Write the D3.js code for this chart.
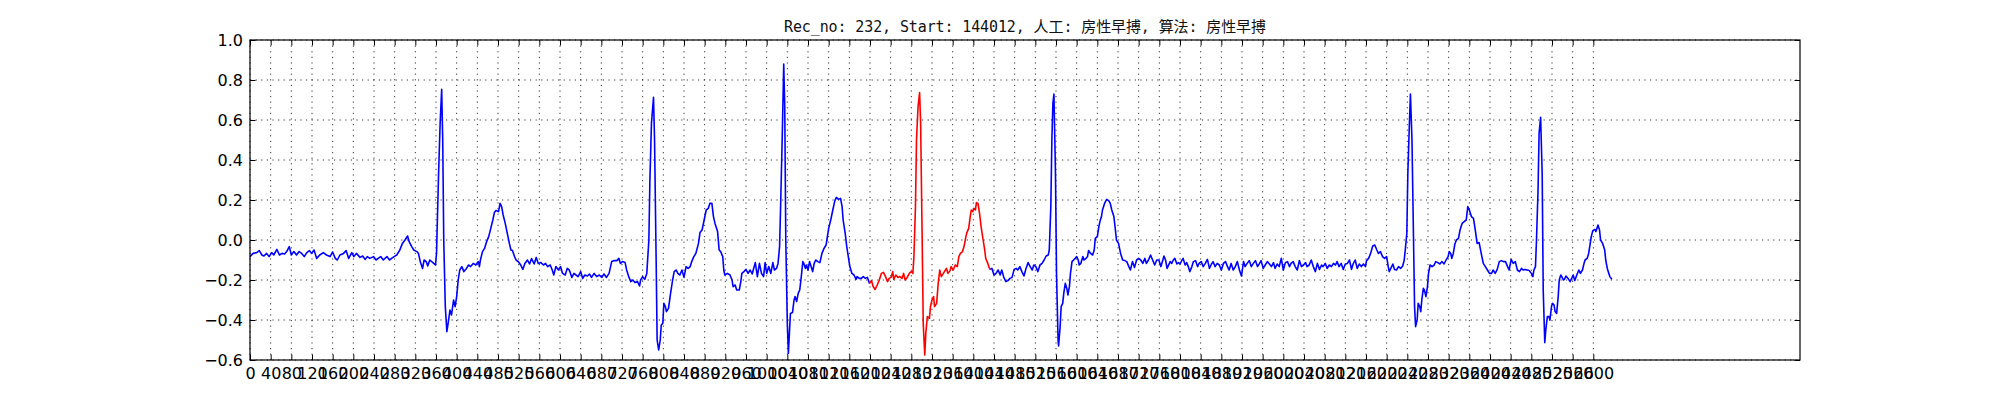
<!DOCTYPE html>
<html>
<head>
<meta charset="utf-8">
<title>Rec 232 ECG</title>
<style>
    body { margin: 0; background: #fff; }
    .axis text { font-family: "DejaVu Sans", sans-serif; font-size: 16px; fill: #000; }
    .axis line { stroke: #000; stroke-width: 1; }
    .grid line { stroke: #000; stroke-width: 0.8; stroke-dasharray: 1.2,4.4; }
    .title { font-family: "DejaVu Sans Mono", "Noto Sans CJK SC", monospace; font-size: 15px; fill: #111; }
</style>
</head>
<body>
<svg width="2000" height="400"></svg>
<script src="https://d3js.org/d3.v7.min.js"></script>
<script>
var titleText = "Rec_no: 232, Start: 144012, 人工: 房性早搏, 算法: 房性早搏";

// sample number of each reading (360 Hz record)
var sampleIndex = [
    0,6,13,18,23,27,32,37,42,46,
    52,57,62,67,71,76,80,85,90,95,
    100,105,110,115,119,124,129,135,142,148,
    155,160,165,169,174,181,186,191,197,201,
    206,213,218,223,227,232,239,244,248,253,
    258,265,270,274,279,284,290,295,300,305,
    308,313,317,323,326,330,334,337,341,344,
    348,354,359,361,365,368,371,373,375,378,
    381,384,387,390,394,397,400,403,406,410,
    414,419,423,427,432,437,442,444,446,450,
    454,458,462,466,470,473,476,481,484,487,
    490,494,498,502,505,508,512,515,519,524,
    528,532,537,541,545,550,554,558,563,568,
    572,576,581,585,588,592,597,601,605,610,
    614,618,623,627,631,635,640,644,648,653,
    657,661,666,671,676,681,685,690,695,700,
    705,710,714,717,721,726,729,733,737,741,
    745,750,754,756,760,764,768,772,774,777,
    781,783,786,788,791,794,796,799,801,804,
    806,810,814,818,821,825,828,832,836,840,
    844,848,852,855,859,863,868,871,875,879,
    883,887,890,894,897,900,905,908,911,915,
    917,919,924,929,933,935,939,942,947,950,
    952,956,960,964,968,972,974,978,982,986,
    990,994,997,1000,1004,1008,1012,1015,1019,1022,
    1025,1027,1030,1032,1033,1035,1037,1040,1042,1044,
    1046,1050,1053,1055,1058,1061,1064,1067,1070,1072,
    1075,1077,1080,1083,1086,1089,1092,1095,1099,1103,
    1107,1111,1115,1117,1120,1124,1128,1132,1135,1139,
    1143,1146,1148,1152,1155,1158,1161,1165,1169,1173,
    1175,1179,1183,1187,1191,1195,1199,1203,1206,1210,
    1214,1218,1222,1226,1230,1234,1237,1241,1244,1246,
    1250,1254,1258,1262,1265,1268,1272,1276,1280,1283,
    1285,1288,1290,1293,1296,1298,1301,1303,1306,1308,
    1311,1315,1317,1320,1323,1325,1329,1332,1335,1338,
    1342,1346,1348,1351,1355,1357,1361,1365,1369,1372,
    1375,1379,1382,1385,1387,1391,1394,1396,1399,1401,
    1404,1406,1409,1412,1415,1419,1422,1424,1428,1432,
    1436,1440,1444,1448,1452,1455,1459,1463,1467,1471,
    1475,1479,1483,1486,1490,1494,1498,1502,1506,1510,
    1514,1517,1521,1525,1529,1533,1537,1541,1545,1547,
    1550,1552,1554,1556,1559,1561,1564,1565,1568,1570,
    1573,1575,1578,1581,1583,1586,1588,1591,1594,1597,
    1600,1603,1605,1608,1612,1614,1618,1621,1623,1627,
    1631,1634,1636,1640,1643,1645,1648,1650,1654,1658,
    1662,1665,1668,1672,1675,1677,1681,1685,1689,1693,
    1697,1701,1704,1708,1712,1716,1720,1724,1728,1732,
    1735,1739,1743,1747,1751,1755,1759,1763,1766,1769,
    1772,1775,1781,1784,1787,1790,1794,1797,1800,1804,
    1806,1810,1813,1816,1819,1823,1826,1830,1834,1837,
    1841,1845,1849,1853,1857,1861,1864,1868,1872,1876,
    1880,1884,1888,1892,1895,1899,1903,1907,1911,1915,
    1919,1923,1926,1930,1934,1938,1942,1946,1950,1954,
    1957,1961,1965,1969,1973,1977,1981,1984,1988,1992,
    1996,2000,2004,2008,2012,2015,2019,2023,2027,2031,
    2035,2039,2043,2046,2050,2054,2058,2062,2066,2070,
    2074,2077,2081,2085,2089,2093,2097,2101,2104,2108,
    2112,2116,2120,2124,2128,2132,2135,2139,2143,2147,
    2151,2155,2159,2161,2165,2169,2173,2177,2181,2184,
    2188,2192,2196,2200,2203,2205,2208,2212,2215,2219,
    2223,2227,2231,2234,2236,2239,2241,2244,2246,2249,
    2252,2254,2256,2259,2261,2264,2266,2268,2271,2273,
    2276,2279,2281,2284,2288,2292,2295,2299,2303,2307,
    2311,2315,2319,2321,2324,2326,2329,2332,2335,2339,
    2342,2346,2350,2354,2357,2360,2364,2368,2372,2375,
    2379,2383,2387,2391,2395,2399,2403,2406,2410,2414,
    2418,2422,2426,2430,2434,2437,2441,2445,2449,2453,
    2457,2461,2464,2468,2472,2476,2480,2483,2485,2488,
    2490,2493,2495,2498,2501,2503,2506,2508,2511,2514,
    2516,2519,2521,2524,2526,2529,2532,2534,2537,2539,
    2542,2544,2547,2551,2555,2559,2561,2564,2568,2572,
    2575,2579,2582,2584,2588,2591,2594,2596,2599,2603,
    2605,2609,2612,2614,2618,2622,2624,2627,2630,2632,
    2636
];

// amplitude at each sample (mV), same order as sampleIndex
var amplitudeMv = [
    -0.083,-0.067,-0.063,-0.053,-0.075,-0.080,-0.067,-0.083,-0.063,-0.075,
    -0.047,-0.075,-0.067,-0.070,-0.058,-0.033,-0.075,-0.058,-0.075,-0.058,
    -0.067,-0.083,-0.063,-0.053,-0.067,-0.050,-0.092,-0.075,-0.063,-0.075,
    -0.083,-0.060,-0.092,-0.100,-0.075,-0.067,-0.053,-0.092,-0.063,-0.083,
    -0.067,-0.087,-0.080,-0.097,-0.083,-0.092,-0.083,-0.100,-0.092,-0.083,
    -0.100,-0.083,-0.100,-0.092,-0.083,-0.075,-0.050,-0.017,0.000,0.020,
    -0.008,-0.033,-0.050,-0.058,-0.067,-0.113,-0.142,-0.100,-0.108,-0.130,
    -0.100,-0.113,-0.125,-0.067,0.333,0.583,0.753,0.500,0.000,-0.333,
    -0.458,-0.408,-0.350,-0.375,-0.300,-0.333,-0.283,-0.200,-0.150,-0.133,
    -0.158,-0.142,-0.125,-0.133,-0.117,-0.125,-0.108,-0.133,-0.100,-0.058,
    -0.042,-0.008,0.017,0.058,0.100,0.137,0.147,0.142,0.183,0.167,
    0.125,0.083,0.033,-0.017,-0.050,-0.053,-0.083,-0.100,-0.108,-0.125,
    -0.147,-0.117,-0.100,-0.120,-0.093,-0.120,-0.087,-0.117,-0.113,-0.125,
    -0.117,-0.133,-0.125,-0.150,-0.175,-0.133,-0.150,-0.133,-0.167,-0.175,
    -0.142,-0.150,-0.187,-0.167,-0.175,-0.183,-0.158,-0.192,-0.175,-0.180,
    -0.170,-0.187,-0.167,-0.183,-0.175,-0.187,-0.170,-0.187,-0.167,-0.108,
    -0.103,-0.103,-0.092,-0.117,-0.108,-0.113,-0.150,-0.183,-0.208,-0.200,
    -0.213,-0.208,-0.230,-0.200,-0.183,-0.197,-0.167,0.000,0.300,0.583,
    0.713,0.500,-0.083,-0.500,-0.550,-0.500,-0.425,-0.417,-0.317,-0.333,
    -0.358,-0.342,-0.267,-0.200,-0.158,-0.150,-0.167,-0.175,-0.150,-0.187,
    -0.133,-0.142,-0.133,-0.108,-0.083,-0.067,-0.017,0.037,0.050,0.100,
    0.150,0.158,0.183,0.183,0.117,0.083,0.042,-0.050,-0.058,-0.083,
    -0.150,-0.175,-0.167,-0.175,-0.200,-0.233,-0.225,-0.250,-0.250,-0.208,
    -0.167,-0.158,-0.147,-0.167,-0.150,-0.170,-0.150,-0.113,-0.183,-0.117,
    -0.167,-0.183,-0.113,-0.167,-0.133,-0.167,-0.113,-0.150,-0.142,-0.117,
    -0.033,0.167,0.500,0.750,0.880,0.667,0.000,-0.417,-0.567,-0.467,
    -0.367,-0.363,-0.300,-0.283,-0.308,-0.267,-0.250,-0.183,-0.108,-0.117,
    -0.142,-0.125,-0.150,-0.108,-0.133,-0.158,-0.117,-0.100,-0.108,-0.113,
    -0.067,-0.042,-0.025,0.008,0.058,0.100,0.150,0.197,0.213,0.203,
    0.208,0.167,0.100,0.033,-0.033,-0.083,-0.133,-0.167,-0.175,-0.197,
    -0.183,-0.192,-0.192,-0.183,-0.192,-0.187,-0.217,-0.203,-0.233,-0.247,
    -0.225,-0.200,-0.167,-0.162,-0.183,-0.208,-0.192,-0.187,-0.158,-0.197,
    -0.175,-0.187,-0.183,-0.192,-0.167,-0.200,-0.187,-0.167,-0.158,-0.167,
    -0.083,0.167,0.500,0.667,0.737,0.583,0.000,-0.417,-0.575,-0.467,
    -0.383,-0.392,-0.333,-0.300,-0.283,-0.333,-0.317,-0.217,-0.150,-0.183,
    -0.167,-0.150,-0.142,-0.167,-0.153,-0.133,-0.150,-0.125,-0.133,-0.083,
    -0.067,-0.058,-0.033,0.008,0.033,0.058,0.117,0.150,0.142,0.158,
    0.150,0.187,0.183,0.133,0.067,0.000,-0.050,-0.092,-0.117,-0.147,
    -0.142,-0.175,-0.167,-0.150,-0.175,-0.150,-0.187,-0.208,-0.203,-0.192,
    -0.187,-0.147,-0.142,-0.150,-0.133,-0.158,-0.180,-0.142,-0.113,-0.133,
    -0.150,-0.125,-0.133,-0.158,-0.125,-0.117,-0.100,-0.080,-0.075,-0.050,
    0.167,0.500,0.683,0.730,0.333,-0.167,-0.500,-0.530,-0.433,-0.333,
    -0.317,-0.267,-0.217,-0.242,-0.275,-0.233,-0.167,-0.108,-0.100,-0.092,
    -0.083,-0.100,-0.125,-0.117,-0.083,-0.100,-0.092,-0.083,-0.053,-0.067,
    -0.075,-0.050,0.008,0.017,0.067,0.092,0.117,0.150,0.183,0.203,
    0.197,0.183,0.150,0.117,0.050,0.000,-0.017,-0.067,-0.100,-0.103,
    -0.108,-0.133,-0.150,-0.108,-0.137,-0.100,-0.092,-0.100,-0.117,-0.092,
    -0.117,-0.100,-0.075,-0.100,-0.125,-0.100,-0.100,-0.133,-0.108,-0.080,
    -0.100,-0.142,-0.108,-0.117,-0.100,-0.092,-0.120,-0.113,-0.120,-0.100,
    -0.092,-0.125,-0.113,-0.133,-0.158,-0.133,-0.108,-0.103,-0.133,-0.117,
    -0.108,-0.133,-0.117,-0.097,-0.142,-0.120,-0.108,-0.133,-0.117,-0.125,
    -0.150,-0.117,-0.108,-0.133,-0.150,-0.117,-0.150,-0.133,-0.108,-0.150,
    -0.180,-0.108,-0.133,-0.117,-0.103,-0.133,-0.117,-0.103,-0.133,-0.117,
    -0.103,-0.142,-0.125,-0.108,-0.120,-0.133,-0.113,-0.142,-0.120,-0.133,
    -0.092,-0.150,-0.113,-0.108,-0.133,-0.117,-0.108,-0.133,-0.150,-0.103,
    -0.133,-0.125,-0.113,-0.133,-0.125,-0.100,-0.133,-0.158,-0.117,-0.147,
    -0.125,-0.133,-0.117,-0.142,-0.125,-0.133,-0.117,-0.125,-0.108,-0.133,
    -0.117,-0.147,-0.120,-0.117,-0.100,-0.147,-0.120,-0.100,-0.142,-0.120,
    -0.133,-0.120,-0.133,-0.103,-0.092,-0.067,-0.030,-0.025,-0.050,-0.067,
    -0.058,-0.083,-0.092,-0.083,-0.133,-0.158,-0.142,-0.120,-0.147,-0.150,
    -0.133,-0.142,-0.130,-0.100,-0.050,0.033,0.333,0.583,0.730,0.500,
    0.000,-0.333,-0.433,-0.400,-0.317,-0.333,-0.358,-0.300,-0.242,-0.250,
    -0.283,-0.233,-0.167,-0.125,-0.133,-0.125,-0.108,-0.113,-0.120,-0.108,
    -0.120,-0.100,-0.083,-0.058,-0.067,-0.092,-0.067,-0.020,0.000,0.008,
    0.050,0.083,0.092,0.100,0.167,0.150,0.117,0.108,0.042,-0.017,
    -0.013,-0.067,-0.117,-0.133,-0.150,-0.167,-0.167,-0.150,-0.167,-0.147,
    -0.108,-0.103,-0.108,-0.108,-0.133,-0.150,-0.097,-0.117,-0.108,-0.150,
    -0.158,-0.142,-0.150,-0.147,-0.150,-0.153,-0.167,-0.183,-0.150,-0.133,
    0.000,0.250,0.533,0.613,0.333,-0.250,-0.513,-0.450,-0.383,-0.383,
    -0.400,-0.333,-0.317,-0.325,-0.358,-0.367,-0.283,-0.200,-0.175,-0.183,
    -0.200,-0.197,-0.180,-0.192,-0.208,-0.187,-0.175,-0.203,-0.175,-0.150,
    -0.167,-0.150,-0.117,-0.100,-0.092,-0.067,-0.017,0.017,0.047,0.053,
    0.042,0.075,0.050,0.000,-0.017,-0.050,-0.100,-0.142,-0.167,-0.183,
    -0.197
];

// stretch of samples drawn in red (the annotated beat)
var highlightRange = [1199, 1432];

var xTickValues = [
    0,40,80,120,160,200,240,280,320,360,400,440,480,520,560,600,640,680,720,760,
    800,840,880,920,960,1000,1040,1080,1120,1160,1200,1240,1280,1320,1360,1400,
    1440,1480,1520,1560,1600,1640,1680,1720,1760,1800,1840,1880,1920,1960,2000,
    2040,2080,2120,2160,2200,2240,2280,2320,2360,2400,2440,2480,2520,2560,2600
];
var yTickValues = [-0.6, -0.4, -0.2, 0.0, 0.2, 0.4, 0.6, 0.8, 1.0];
var xLimits = [0, 3000];
var yLimits = [-0.6, 1.0];

var svg = d3.select("svg"),
    margin = {top: 40, right: 200, bottom: 40, left: 250},
    width = +svg.attr("width") - margin.left - margin.right,
    height = +svg.attr("height") - margin.top - margin.bottom,
    g = svg.append("g").attr("transform", "translate(" + margin.left + "," + margin.top + ")");

var x = d3.scaleLinear().domain(xLimits).range([0, width]);
var y = d3.scaleLinear().domain(yLimits).range([height, 0]);
var tickLen = 5.5;

// dotted grid
var grid = g.append("g").attr("class", "grid");
grid.selectAll(".gx").data(xTickValues).enter().append("line")
    .attr("class", "gx")
    .attr("x1", function(d) { return x(d); })
    .attr("x2", function(d) { return x(d); })
    .attr("y1", 0).attr("y2", height);
grid.selectAll(".gy").data(yTickValues).enter().append("line")
    .attr("class", "gy")
    .attr("x1", 0).attr("x2", width)
    .attr("y1", function(d) { return y(d); })
    .attr("y2", function(d) { return y(d); });

// ticks point inward on all four sides
var xb = g.append("g").attr("class", "axis")
    .attr("transform", "translate(0," + height + ")")
    .call(d3.axisBottom(x).tickValues(xTickValues).tickSizeInner(-tickLen)
        .tickSizeOuter(0).tickPadding(8).tickFormat(d3.format("d")));
var xt = g.append("g").attr("class", "axis")
    .call(d3.axisTop(x).tickValues(xTickValues).tickSizeInner(-tickLen)
        .tickSizeOuter(0).tickFormat(""));
var yl = g.append("g").attr("class", "axis")
    .call(d3.axisLeft(y).tickValues(yTickValues).tickSizeInner(-tickLen)
        .tickSizeOuter(0).tickPadding(7).tickFormat(d3.format(".1f")));
var yr = g.append("g").attr("class", "axis")
    .attr("transform", "translate(" + width + ",0)")
    .call(d3.axisRight(y).tickValues(yTickValues).tickSizeInner(-tickLen)
        .tickSizeOuter(0).tickFormat(""));
[xb, xt, yl, yr].forEach(function(a) { a.select(".domain").remove(); });

// signal, split so the red beat is not drawn over blue
var n = Math.min(sampleIndex.length, amplitudeMv.length);
var ecg = [];
for (var i = 0; i < n; i++) ecg.push([sampleIndex[i], amplitudeMv[i]]);

var before = ecg.filter(function(d) { return d[0] <= highlightRange[0]; }),
    beat = ecg.filter(function(d) { return d[0] >= highlightRange[0] && d[0] <= highlightRange[1]; }),
    after = ecg.filter(function(d) { return d[0] >= highlightRange[1]; });

var line = d3.line()
    .x(function(d) { return x(d[0]); })
    .y(function(d) { return y(d[1]); });

[[before, "#0000ff"], [after, "#0000ff"], [beat, "#ff0000"]].forEach(function(s) {
    g.append("path")
        .datum(s[0])
        .attr("fill", "none")
        .attr("stroke", s[1])
        .attr("stroke-width", 1.6)
        .attr("stroke-linejoin", "round")
        .attr("d", line);
});

// frame
g.append("rect")
    .attr("width", width).attr("height", height)
    .attr("fill", "none").attr("stroke", "#000").attr("stroke-width", 1.2);

svg.append("text")
    .attr("class", "title")
    .attr("x", margin.left + width / 2)
    .attr("y", 32)
    .attr("text-anchor", "middle")
    .attr("textLength", 482)
    .attr("lengthAdjust", "spacing")
    .text(titleText);
</script>
</body>
</html>
